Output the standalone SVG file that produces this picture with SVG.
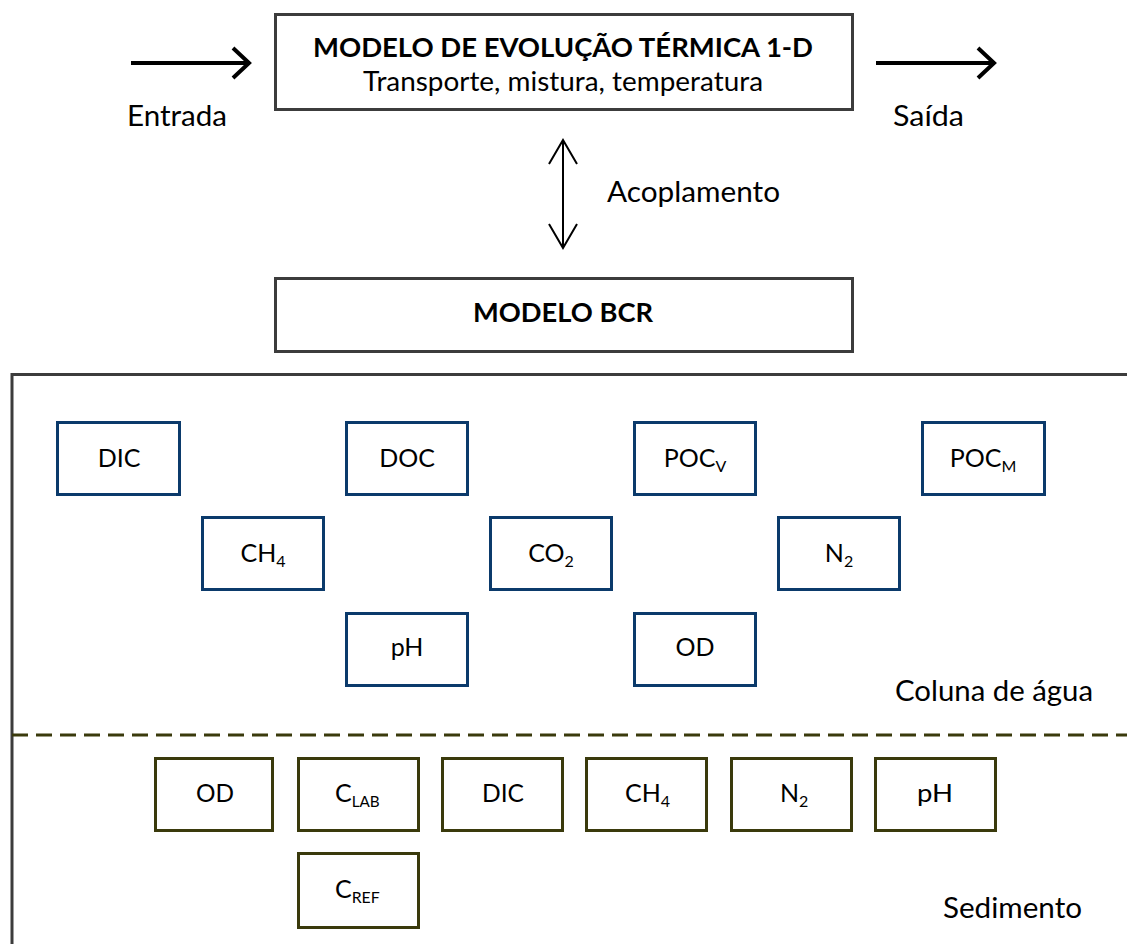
<svg xmlns="http://www.w3.org/2000/svg" width="1127" height="944" viewBox="0 0 1127 944">
  <style>
    text { font-family: Lato, "Open Sans", "Noto Sans", sans-serif; fill: #000; }
    .title { font-size: 27px; font-weight: bold; text-anchor: middle; }
    .sub { font-size: 26px; text-anchor: middle; }
    .lbl { font-size: 29px; }
    .frame { fill: #fff; stroke: #3c3c3c; stroke-width: 3; }
    .water rect { fill: #fff; stroke: #0b3a6b; stroke-width: 3; }
    .sed rect { fill: #fff; stroke: #3a3a0c; stroke-width: 3; }
    .node text { font-size: 25px; text-anchor: middle; }
    .sed text { font-size: 25px; }
    .s { font-size: 16px; }
    .flow { stroke: #000; stroke-width: 4; fill: none; }
    .couple { stroke: #000; stroke-width: 2; fill: none; }
  </style>

  <!-- upper thermal model -->
  <g id="thermal-model">
    <rect class="frame" x="275.5" y="14.5" width="577" height="95"/>
    <text class="title" x="563" y="57" textLength="500" lengthAdjust="spacingAndGlyphs">MODELO DE EVOLUÇÃO TÉRMICA 1-D</text>
    <text class="sub" x="563" y="91" textLength="400" lengthAdjust="spacingAndGlyphs">Transporte, mistura, temperatura</text>
  </g>

  <!-- BCR model -->
  <g id="bcr-model">
    <rect class="frame" x="275.5" y="278.5" width="577" height="73"/>
    <text class="title" x="563" y="322" textLength="180" lengthAdjust="spacingAndGlyphs">MODELO BCR</text>
  </g>

  <!-- inflow / outflow / coupling arrows -->
  <g id="connectors">
    <path class="flow" d="M131 63 H248 M233 48 L249 63 L233 78"/>
    <path class="flow" d="M876 63 H993 M978 48 L994 63 L978 78"/>
    <path class="couple" d="M563 140 V248 M549 164 L563 140 L577 164 M549 224 L563 248 L577 224"/>
  </g>

  <text class="lbl" x="127" y="126" textLength="100" lengthAdjust="spacingAndGlyphs">Entrada</text>
  <text class="lbl" x="893" y="126" textLength="71" lengthAdjust="spacingAndGlyphs">Saída</text>
  <text class="lbl" x="607" y="202" textLength="173" lengthAdjust="spacingAndGlyphs">Acoplamento</text>

  <!-- domain frame and water/sediment interface -->
  <g id="domain">
    <path d="M12 944 V374.5 H1127" fill="none" stroke="#3c3c3c" stroke-width="3"/>
    <line x1="12" y1="735" x2="1127" y2="735" stroke="#3a3a0c" stroke-width="3" stroke-dasharray="16 8"/>
  </g>

  <!-- water column state variables -->
  <g id="w-dic" class="node water"><rect x="57.5" y="422.5" width="122" height="72"/><text x="119" y="467">DIC</text></g>
  <g id="w-doc" class="node water"><rect x="346.5" y="422.5" width="121" height="72"/><text x="407" y="467">DOC</text></g>
  <g id="w-pocv" class="node water"><rect x="634.5" y="422.5" width="121" height="72"/><text x="695" y="467">POC<tspan class="s" dy="5">V</tspan></text></g>
  <g id="w-pocm" class="node water"><rect x="922.5" y="422.5" width="122" height="72"/><text x="983" y="467">POC<tspan class="s" dy="5">M</tspan></text></g>
  <g id="w-ch4" class="node water"><rect x="202.5" y="517.5" width="121" height="72"/><text x="263" y="562">CH<tspan class="s" dy="5">4</tspan></text></g>
  <g id="w-co2" class="node water"><rect x="490.5" y="517.5" width="121" height="72"/><text x="551" y="562">CO<tspan class="s" dy="5">2</tspan></text></g>
  <g id="w-n2" class="node water"><rect x="778.5" y="517.5" width="121" height="72"/><text x="839" y="562">N<tspan class="s" dy="5">2</tspan></text></g>
  <g id="w-ph" class="node water"><rect x="346.5" y="613.5" width="121" height="72"/><text x="407" y="656">pH</text></g>
  <g id="w-od" class="node water"><rect x="634.5" y="613.5" width="121" height="72"/><text x="695" y="656">OD</text></g>

  <text class="lbl" x="895" y="701" textLength="198" lengthAdjust="spacingAndGlyphs">Coluna de água</text>

  <!-- sediment state variables (condensed lettering) -->
  <g id="s-od" class="node sed"><rect x="155.5" y="758.5" width="117" height="72"/><text x="196" y="802" textLength="38" lengthAdjust="spacingAndGlyphs" style="text-anchor:start">OD</text></g>
  <g id="s-clab" class="node sed"><rect x="298.5" y="758.5" width="120" height="72"/><text x="335" y="802" style="text-anchor:start">C<tspan class="s" dy="5" textLength="28" lengthAdjust="spacingAndGlyphs">LAB</tspan></text></g>
  <g id="s-dic" class="node sed"><rect x="442.5" y="758.5" width="120" height="72"/><text x="482" y="802" textLength="42" lengthAdjust="spacingAndGlyphs" style="text-anchor:start">DIC</text></g>
  <g id="s-ch4" class="node sed"><rect x="586.5" y="758.5" width="120" height="72"/><text x="625" y="802" style="text-anchor:start">CH<tspan class="s" dy="5">4</tspan></text></g>
  <g id="s-n2" class="node sed"><rect x="731.5" y="758.5" width="120" height="72"/><text x="780" y="802" style="text-anchor:start">N<tspan class="s" dy="5">2</tspan></text></g>
  <g id="s-ph" class="node sed"><rect x="875.5" y="758.5" width="120" height="72"/><text x="917" y="802" textLength="36" lengthAdjust="spacingAndGlyphs" style="text-anchor:start">pH</text></g>
  <g id="s-cref" class="node sed"><rect x="298.5" y="853.5" width="120" height="74"/><text x="335" y="898" style="text-anchor:start">C<tspan class="s" dy="5" textLength="28" lengthAdjust="spacingAndGlyphs">REF</tspan></text></g>

  <text class="lbl" x="943" y="918" textLength="139" lengthAdjust="spacingAndGlyphs">Sedimento</text>
</svg>
